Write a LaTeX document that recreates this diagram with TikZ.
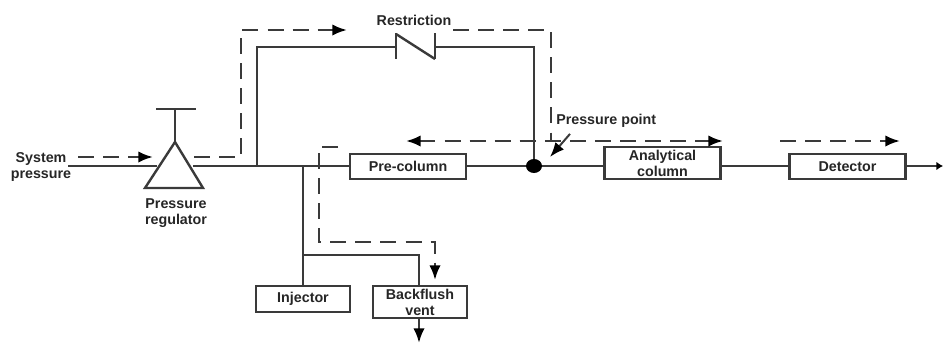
\documentclass[tikz,border=0pt]{standalone}
\usepackage{fontspec}
\setmainfont{Liberation Sans}
\usetikzlibrary{arrows.meta,calc,shapes.geometric}
\definecolor{ink}{HTML}{3A3A3A}
\definecolor{txt}{HTML}{262626}
\tikzset{
  pipe/.style={draw=ink,line width=1.8pt},
  thin pipe/.style={draw=ink,line width=1.5pt},
  flow/.style={draw=ink,line width=1.8pt,dash pattern=on 12pt off 6.8pt},
  tip/.style={-{Latex[length=11pt,width=8.5pt,black]}},
  bitip/.style={{Latex[length=11pt,width=8.5pt,black]}-{Latex[length=11pt,width=8.5pt,black]}},
  unit/.style={draw=ink,line width=1.7pt,fill=white,inner sep=0pt,align=center,font=\fontsize{10.7pt}{12pt}\selectfont\bfseries,text=txt,minimum width=87pt},
  lab/.style={inner sep=0pt,align=center,font=\fontsize{10.7pt}{12pt}\selectfont\bfseries,text=txt},
}
\begin{document}
\begin{tikzpicture}[x=0.75pt,y=-0.75pt]
\useasboundingbox (0,0) rectangle (943,343);
% units
\node[unit,minimum height=18.5pt] (pre) at (408,166.5) {Pre-column};
\node[unit,minimum height=24pt] (ana) at (662.5,163) {Analytical\\column};
\node[unit,minimum height=18.5pt] (det) at (847.5,166.5) {Detector};
\node[unit,minimum width=70pt,minimum height=19pt] (inj) at (303,299) {Injector};
\node[unit,minimum width=70pt,minimum height=24pt] (bfv) at (420,302) {Backflush\\vent};
% labels
\node[lab] (sys) at (41,167) {System\\pressure};
\node[lab] (preg) at (176,213) {Pressure\\regulator};
\node[lab] (res) at (414,20) {Restriction};
\node[lab,anchor=west] (pp) at (556,121) {Pressure point};
% junctions
\coordinate (in) at (68,166);
\coordinate (apex) at (175,142);
\coordinate (bl) at (145,188);
\coordinate (br) at (203,188);
\coordinate (tl) at (156,109);
\coordinate (tr) at (196,109);
\coordinate (tm) at (175,109);
\coordinate (rin) at (193,166);
\coordinate (lin) at (157,166);
\coordinate (j1) at (257,166);
\coordinate (j1t) at (257,47);
\coordinate (j2) at (303,166);
\coordinate (j3) at (303,255);
\coordinate (j3r) at (419,255);
\coordinate (ra) at (396,47);
\coordinate (rb) at (435,47);
\coordinate (rt) at (534,47);
\coordinate (out) at (943,166);
\coordinate (vent) at (419,343);
% solid lines
\draw[pipe] (in) -- (lin);
\draw[pipe] (rin) -- (rin -| pre.west);
\draw[pipe,line join=miter] (bl) -- (apex) -- (br) -- cycle;
\draw[thin pipe] (tl) -- (tr);
\draw[thin pipe] (tm) -- (apex);
\draw[pipe] (j1) -- (j1t) -- (ra);
\draw[pipe] (396,33) -- (396,59);
\draw[pipe] (396,34) -- (435,59);
\draw[pipe] (435,33) -- (435,59);
\node[fill=black,ellipse,minimum width=12pt,minimum height=10.5pt,inner sep=0pt] (dot) at (534,166) {};
\draw[pipe] (rb) -- (rt) -- (dot);
\draw[pipe] (dot -| pre.east) -- (dot) -- (dot -| ana.west);
\draw[pipe] (dot -| ana.east) -- (dot -| det.west);
\draw[pipe,-{Latex[length=5pt,width=6.5pt,black]}] (dot -| det.east) -- (out);
\draw[pipe] (j2) -- (inj.north);
\draw[pipe] (j3) -- (j3r) -- (j3r |- bfv.north);
\draw[pipe,tip] (j3r |- bfv.south) -- (vent);
% dashed flows
\draw[flow,tip] (78,157) -- (153,157);
\draw[flow,tip] (194,157) -- (241,157) -- (241,30) -- (347,30);
\draw[flow] (453,30) -- (551,30) -- (551,141);
\draw[flow,bitip] (406,141) -- (723,141);
\draw[flow,tip] (780,141) -- (900,141);
\draw[flow,tip] (338,147) -- (319,147) -- (319,242) -- (435,242) -- (435,280);
% pressure point pointer
\draw[thin pipe,tip] (pp.south west) ++(14,6) -- (550,157);
\end{tikzpicture}
\end{document}
